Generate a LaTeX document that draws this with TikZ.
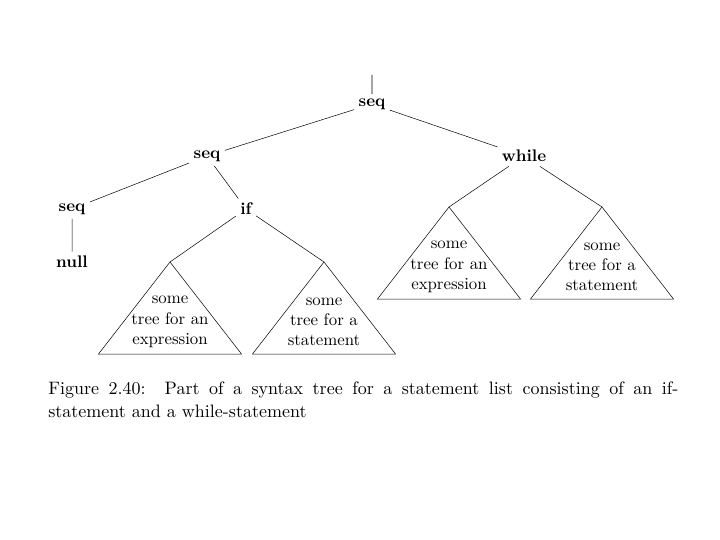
\documentclass[tikz,border=0pt]{standalone}
\usetikzlibrary{calc}
\begin{document}
\begin{tikzpicture}[x=1pt,y=-1pt,
  lbl/.style={font=\normalsize\bfseries, inner sep=2.5pt, scale=1.68, transform shape},
  tritext/.style={font=\normalsize, align=center, inner sep=0pt, scale=1.68, transform shape},
  edge/.style={line width=0.5pt},
  tri/.style={line width=0.5pt, line join=miter}]
\useasboundingbox (0,0) rectangle (720,540);
% nodes
\node[lbl] (root) at (372,104) {seq};
\node[lbl] (seqL) at (207,156) {seq};
\node[lbl] (wh) at (524,156) {while};
\node[lbl] (seqLL) at (72,209) {seq};
\node[lbl] (if) at (246,209) {if};
\node[lbl] (null) at (72,262) {null};
\coordinate (top) at (372,75);
% triangle apexes
\coordinate (a1) at (170,262);
\coordinate (a2) at (324,262);
\coordinate (a3) at (449,207);
\coordinate (a4) at (602,207);
% edges
\draw[line width=0.8pt] (top) -- (root);
\draw[edge] (root) -- (seqL);
\draw[edge] (root) -- (wh);
\draw[edge] (seqL) -- (seqLL);
\draw[edge] (seqL) -- (if);
\draw[edge] (seqLL) -- (null);
\draw[edge] (if) -- (a1);
\draw[edge] (if) -- (a2);
\draw[edge] (wh) -- (a3);
\draw[edge] (wh) -- (a4);
% triangles
\foreach \a in {a1,a2,a3,a4}{
  \draw[tri] (\a) -- ++(-71.5,92) -- ++(143,0) -- cycle;
}
\node[tritext] (t1) at ($(a1)+(0,60)$) {some\\tree for an\\expression};
\node[tritext] (t2) at ($(a2)+(0,60)$) {some\\tree for a\\statement};
\node[tritext] (t3) at ($(a3)+(0,60)$) {some\\tree for an\\expression};
\node[tritext] (t4) at ($(a4)+(0,60)$) {some\\tree for a\\statement};
% caption
\node[anchor=north west, inner sep=0pt, text width=350pt, align=justify,
  font=\fontsize{10}{12.8}\selectfont, scale=1.8, transform shape] (cap) at (48,381.5)
  {Figure 2.40:\ \ Part of a syntax tree for a statement list consisting of an if-\linebreak statement and a while-statement};
\end{tikzpicture}
\end{document}
